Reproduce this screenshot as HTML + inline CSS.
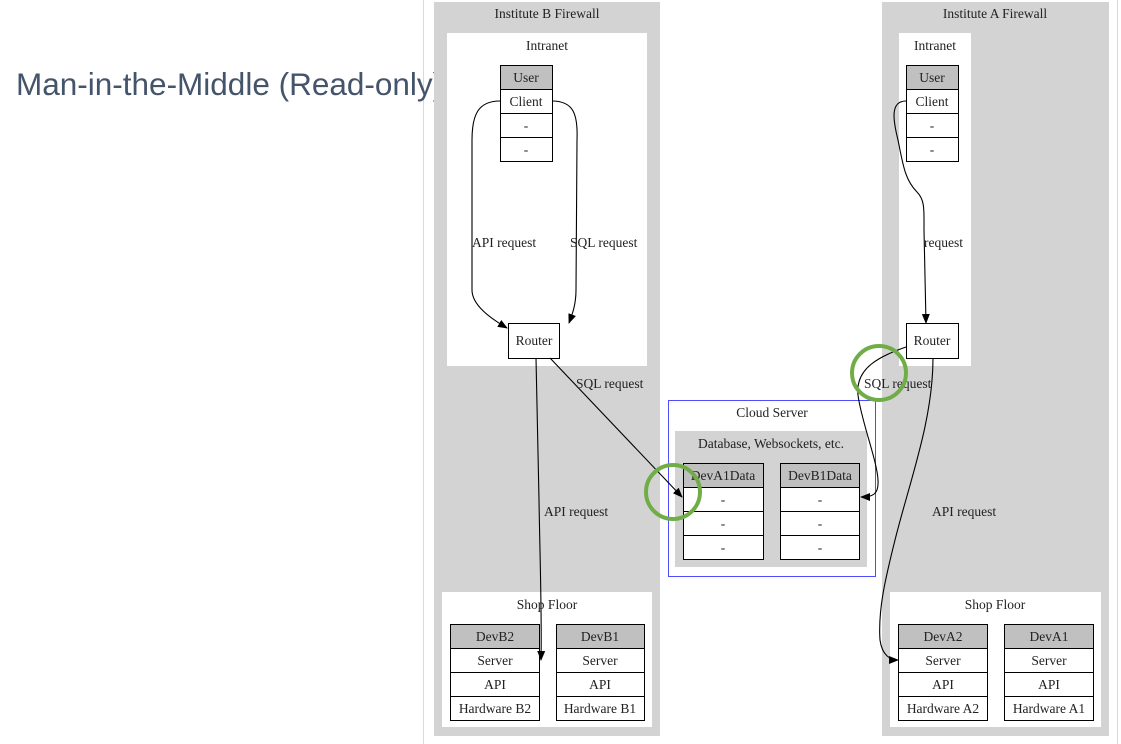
<!DOCTYPE html>
<html><head><meta charset="utf-8"><style>
html,body{margin:0;padding:0;background:#fff;width:1121px;height:744px;overflow:hidden}
svg{position:absolute;left:0;top:0}
text{font-family:"Liberation Serif",serif;font-size:13.5px;fill:#222}
.t{font-family:"Liberation Sans",sans-serif;font-size:31.5px;fill:#44546a}
</style></head><body>
<svg width="1121" height="744" viewBox="0 0 1121 744">
<defs><marker id="a" markerWidth="10" markerHeight="8" refX="9" refY="4" orient="auto" markerUnits="userSpaceOnUse"><path d="M0,0L10,4L0,8z" fill="#000"/></marker></defs>
<line x1="423.5" y1="0" x2="423.5" y2="744" stroke="#d9d9d9"/>
<line x1="1117.5" y1="0" x2="1117.5" y2="744" stroke="#d9d9d9"/>
<text class="t" x="16" y="95">Man-in-the-Middle (Read-only)</text>

<!-- Institute B -->
<rect x="434" y="2" width="226" height="734" fill="#d3d3d3"/>
<text x="547" y="18" text-anchor="middle">Institute B Firewall</text>
<rect x="447" y="33" width="200" height="333" fill="#fff"/>
<text x="547" y="50" text-anchor="middle">Intranet</text>
<g stroke="#000" stroke-width="1">
<rect x="500.5" y="65.5" width="52" height="24" fill="#c0c0c0"/>
<rect x="500.5" y="89.5" width="52" height="24" fill="#fff"/>
<rect x="500.5" y="113.5" width="52" height="24" fill="#fff"/>
<rect x="500.5" y="137.5" width="52" height="24" fill="#fff"/>
<rect x="508.5" y="323.5" width="51" height="35" fill="#fff"/>
</g>
<text x="526" y="82" text-anchor="middle">User</text>
<text x="526" y="106" text-anchor="middle">Client</text>
<text x="526" y="130" text-anchor="middle">-</text>
<text x="526" y="154" text-anchor="middle">-</text>
<text x="534" y="345" text-anchor="middle">Router</text>
<rect x="442" y="592" width="210" height="135" fill="#fff"/>
<text x="547" y="609" text-anchor="middle">Shop Floor</text>

<!-- Institute A -->
<rect x="882" y="2" width="227" height="734" fill="#d3d3d3"/>
<text x="995" y="18" text-anchor="middle">Institute A Firewall</text>
<rect x="899" y="33" width="72" height="333" fill="#fff"/>
<text x="935" y="50" text-anchor="middle">Intranet</text>
<g stroke="#000" stroke-width="1">
<rect x="906.5" y="65.5" width="52" height="24" fill="#c0c0c0"/>
<rect x="906.5" y="89.5" width="52" height="24" fill="#fff"/>
<rect x="906.5" y="113.5" width="52" height="24" fill="#fff"/>
<rect x="906.5" y="137.5" width="52" height="24" fill="#fff"/>
<rect x="906.5" y="323.5" width="52" height="35" fill="#fff"/>
</g>
<text x="932" y="82" text-anchor="middle">User</text>
<text x="932" y="106" text-anchor="middle">Client</text>
<text x="932" y="130" text-anchor="middle">-</text>
<text x="932" y="154" text-anchor="middle">-</text>
<text x="932" y="345" text-anchor="middle">Router</text>
<rect x="890" y="592" width="211" height="135" fill="#fff"/>
<text x="995" y="609" text-anchor="middle">Shop Floor</text>

<!-- Shop floor tables -->
<g stroke="#000" stroke-width="1" fill="#fff">
<rect x="450.5" y="624.5" width="89" height="24" fill="#c0c0c0"/><rect x="450.5" y="648.5" width="89" height="24"/><rect x="450.5" y="672.5" width="89" height="24"/><rect x="450.5" y="696.5" width="89" height="24"/>
<rect x="556.5" y="624.5" width="88" height="24" fill="#c0c0c0"/><rect x="556.5" y="648.5" width="88" height="24"/><rect x="556.5" y="672.5" width="88" height="24"/><rect x="556.5" y="696.5" width="88" height="24"/>
<rect x="898.5" y="624.5" width="89" height="24" fill="#c0c0c0"/><rect x="898.5" y="648.5" width="89" height="24"/><rect x="898.5" y="672.5" width="89" height="24"/><rect x="898.5" y="696.5" width="89" height="24"/>
<rect x="1004.5" y="624.5" width="89" height="24" fill="#c0c0c0"/><rect x="1004.5" y="648.5" width="89" height="24"/><rect x="1004.5" y="672.5" width="89" height="24"/><rect x="1004.5" y="696.5" width="89" height="24"/>
</g>
<g text-anchor="middle">
<text x="495" y="641">DevB2</text><text x="495" y="665">Server</text><text x="495" y="689">API</text><text x="495" y="713">Hardware B2</text>
<text x="600" y="641">DevB1</text><text x="600" y="665">Server</text><text x="600" y="689">API</text><text x="600" y="713">Hardware B1</text>
<text x="943" y="641">DevA2</text><text x="943" y="665">Server</text><text x="943" y="689">API</text><text x="943" y="713">Hardware A2</text>
<text x="1049" y="641">DevA1</text><text x="1049" y="665">Server</text><text x="1049" y="689">API</text><text x="1049" y="713">Hardware A1</text>
</g>

<!-- Cloud -->
<rect x="668.5" y="400.5" width="207" height="176" fill="#fff" stroke="#4d4dff"/>
<text x="772" y="417" text-anchor="middle">Cloud Server</text>
<rect x="675" y="431" width="192" height="136" fill="#d3d3d3"/>
<text x="771" y="448" text-anchor="middle">Database, Websockets, etc.</text>
<g stroke="#000" stroke-width="1" fill="#fff">
<rect x="683.5" y="463.5" width="80" height="24" fill="#c0c0c0"/><rect x="683.5" y="487.5" width="80" height="24"/><rect x="683.5" y="511.5" width="80" height="24"/><rect x="683.5" y="535.5" width="80" height="24"/>
<rect x="780.5" y="463.5" width="79" height="24" fill="#c0c0c0"/><rect x="780.5" y="487.5" width="79" height="24"/><rect x="780.5" y="511.5" width="79" height="24"/><rect x="780.5" y="535.5" width="79" height="24"/>
</g>
<g text-anchor="middle">
<text x="723" y="480">DevA1Data</text><text x="723" y="504">-</text><text x="723" y="528">-</text><text x="723" y="552">-</text>
<text x="820" y="480">DevB1Data</text><text x="820" y="504">-</text><text x="820" y="528">-</text><text x="820" y="552">-</text>
</g>

<!-- edges -->
<g fill="none" stroke="#000" stroke-width="1.1" marker-end="url(#a)">
<path d="M500,101 C478,101 472,115 472,140 L472,290 C472,305 490,318 507,328"/>
<path d="M552,101 C574,101 578,115 577,140 L576,290 C576,305 572,315 569,323"/>
<path d="M536,358 L539,500 C540,560 542,620 541,660"/>
<path d="M550,358 L682,497"/>
<path d="M906,101 C890,101 893,120 898,140 C903,165 905,180 917,192 C925,200 924,210 924,230 L926,323"/>
<path d="M906,347 C880,356 855,368 858,395 C861,420 877,460 878,480 C879,495 872,497 861,497"/>
<path d="M933,358 C933,420 910,480 895,540 C885,580 878,610 880,640 C882,655 890,660 898,660"/>
</g>
<text x="472" y="247">API request</text>
<text x="570" y="247">SQL request</text>
<text x="576" y="388">SQL request</text>
<text x="544" y="516">API request</text>
<text x="924" y="247">request</text>
<text x="864" y="388">SQL request</text>
<text x="932" y="516">API request</text>

<circle cx="673" cy="492" r="27" fill="none" stroke="#70ad47" stroke-width="4"/>
<circle cx="879" cy="373" r="27" fill="none" stroke="#70ad47" stroke-width="4"/>
</svg>
</body></html>
